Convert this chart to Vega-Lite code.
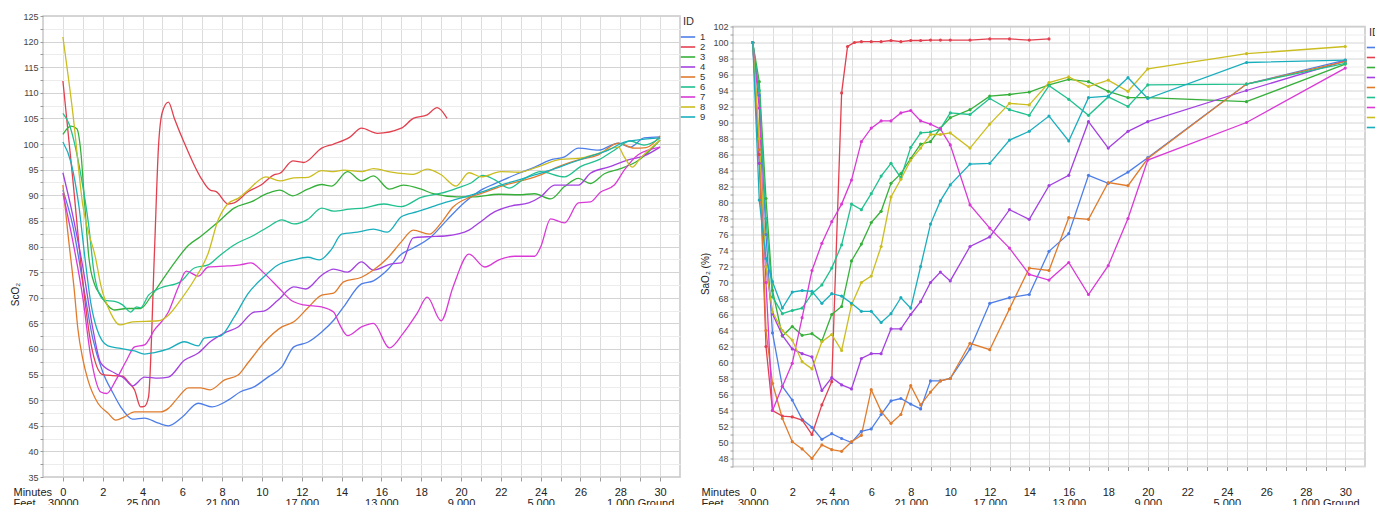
{
  "$schema": "https://vega.github.io/schema/vega-lite/v6.json",
  "background": "white",
  "padding": {"left": 9, "top": 11, "right": 0, "bottom": 0},
  "autosize": {"type": "pad"},
  "bounds": "flush",
  "center": true,
  "spacing": 53,
  "config": {
    "font": "Liberation Sans",
    "view": {"stroke": "#c8c8c8", "strokeWidth": 1.5},
    "axis": {
      "domain": false,
      "gridColor": "#dcdcdc",
      "gridWidth": 1,
      "tickColor": "#9a9a9a",
      "labelColor": "#444444",
      "labelFontSize": 9,
      "titleFontWeight": "normal",
      "titleColor": "#222222",
      "titleFontSize": 10
    },
    "legend": {
      "titleFontWeight": "normal",
      "titleFontSize": 11,
      "titleColor": "#333333",
      "labelFontSize": 9.5,
      "labelColor": "#333333",
      "symbolType": "M-1.8,0H1.8",
      "symbolSize": 64,
      "symbolStrokeWidth": 1.6,
      "rowPadding": -2.4,
      "titlePadding": 5,
      "labelOffset": 7
    }
  },
  "resolve": {"scale": {"color": "independent"}},
  "datasets": {
    "sco2": [
      {"id":"1","t":0,"v":91},{"id":"1","t":0.5,"v":84},{"id":"1","t":1,"v":73},{"id":"1","t":1.5,"v":62},{"id":"1","t":2,"v":55.5},{"id":"1","t":2.5,"v":51.5},{"id":"1","t":2.9,"v":48.7},{"id":"1","t":3.5,"v":46.3},{"id":"1","t":4.1,"v":46.5},{"id":"1","t":4.8,"v":45.5},{"id":"1","t":5.3,"v":45},{"id":"1","t":6,"v":46.7},{"id":"1","t":6.8,"v":49.4},{"id":"1","t":7.5,"v":48.7},{"id":"1","t":8.3,"v":50},{"id":"1","t":8.9,"v":51.6},{"id":"1","t":9.6,"v":52.6},{"id":"1","t":10.3,"v":54.5},{"id":"1","t":11,"v":56.5},{"id":"1","t":11.6,"v":60.4},{"id":"1","t":12.3,"v":61.3},{"id":"1","t":13,"v":63.3},{"id":"1","t":13.6,"v":65.6},{"id":"1","t":14.1,"v":68.2},{"id":"1","t":15,"v":72.7},{"id":"1","t":15.6,"v":73.3},{"id":"1","t":16.3,"v":75.4},{"id":"1","t":17,"v":78.5},{"id":"1","t":17.6,"v":79.7},{"id":"1","t":18.5,"v":81.9},{"id":"1","t":19.3,"v":85.2},{"id":"1","t":20.2,"v":88.7},{"id":"1","t":21,"v":91},{"id":"1","t":21.9,"v":92.6},{"id":"1","t":22.9,"v":94.3},{"id":"1","t":23.7,"v":95.5},{"id":"1","t":24.5,"v":96.9},{"id":"1","t":25.2,"v":97.5},{"id":"1","t":25.9,"v":99.2},{"id":"1","t":26.9,"v":98.8},{"id":"1","t":27.9,"v":100.2},{"id":"1","t":28.5,"v":99.4},{"id":"1","t":29.2,"v":101.2},{"id":"1","t":30,"v":101.4},
      {"id":"2","t":0,"v":112.3},{"id":"2","t":0.5,"v":93},{"id":"2","t":1,"v":73},{"id":"2","t":1.4,"v":61.2},{"id":"2","t":2,"v":55},{"id":"2","t":2.5,"v":54.8},{"id":"2","t":3,"v":54.7},{"id":"2","t":3.3,"v":53.5},{"id":"2","t":3.6,"v":52},{"id":"2","t":3.9,"v":48.7},{"id":"2","t":4.1,"v":48.8},{"id":"2","t":4.3,"v":50.6},{"id":"2","t":4.6,"v":79},{"id":"2","t":4.8,"v":99.4},{"id":"2","t":5,"v":106.3},{"id":"2","t":5.3,"v":108.2},{"id":"2","t":5.6,"v":105},{"id":"2","t":6.1,"v":100.2},{"id":"2","t":6.9,"v":93.6},{"id":"2","t":7.4,"v":91},{"id":"2","t":7.7,"v":90.7},{"id":"2","t":8.3,"v":88.3},{"id":"2","t":8.6,"v":88.5},{"id":"2","t":9.3,"v":90.7},{"id":"2","t":9.95,"v":92},{"id":"2","t":10.6,"v":94},{"id":"2","t":10.9,"v":94.3},{"id":"2","t":11.55,"v":96.7},{"id":"2","t":12.1,"v":96.4},{"id":"2","t":13,"v":99.2},{"id":"2","t":13.6,"v":100},{"id":"2","t":14.4,"v":101.3},{"id":"2","t":15,"v":103.1},{"id":"2","t":15.8,"v":102.1},{"id":"2","t":17,"v":103.1},{"id":"2","t":17.6,"v":105},{"id":"2","t":18.3,"v":105.7},{"id":"2","t":18.8,"v":107.1},{"id":"2","t":19.3,"v":105},
      {"id":"3","t":0,"v":101.9},{"id":"3","t":0.4,"v":103.5},{"id":"3","t":0.7,"v":103},{"id":"3","t":0.9,"v":98.5},{"id":"3","t":1.1,"v":88},{"id":"3","t":1.3,"v":78},{"id":"3","t":1.6,"v":72.5},{"id":"3","t":1.9,"v":70.5},{"id":"3","t":2.3,"v":68.3},{"id":"3","t":2.6,"v":67.6},{"id":"3","t":3.2,"v":67.9},{"id":"3","t":3.9,"v":67.9},{"id":"3","t":4.4,"v":70.1},{"id":"3","t":4.9,"v":72.9},{"id":"3","t":5.6,"v":76.8},{"id":"3","t":6.3,"v":80.2},{"id":"3","t":6.9,"v":81.9},{"id":"3","t":7.8,"v":84.8},{"id":"3","t":8.6,"v":87.5},{"id":"3","t":9.45,"v":88.7},{"id":"3","t":10.3,"v":90.4},{"id":"3","t":10.9,"v":91},{"id":"3","t":11.55,"v":89.9},{"id":"3","t":12.3,"v":91.2},{"id":"3","t":13,"v":92.1},{"id":"3","t":13.5,"v":91.8},{"id":"3","t":14.3,"v":94.6},{"id":"3","t":15,"v":92.8},{"id":"3","t":15.6,"v":93.8},{"id":"3","t":16.4,"v":91.2},{"id":"3","t":17.1,"v":92},{"id":"3","t":18,"v":91.2},{"id":"3","t":18.6,"v":90.3},{"id":"3","t":19.8,"v":89.7},{"id":"3","t":20.6,"v":89.7},{"id":"3","t":21.9,"v":90.2},{"id":"3","t":22.9,"v":90.1},{"id":"3","t":23.7,"v":90.3},{"id":"3","t":24.5,"v":89.3},{"id":"3","t":25.2,"v":91.7},{"id":"3","t":25.9,"v":93.3},{"id":"3","t":26.5,"v":92.3},{"id":"3","t":27.2,"v":94.2},{"id":"3","t":28,"v":95.2},{"id":"3","t":28.9,"v":96.8},{"id":"3","t":30,"v":100.8},
      {"id":"4","t":0,"v":94.4},{"id":"4","t":0.5,"v":86},{"id":"4","t":1,"v":76},{"id":"4","t":1.5,"v":64},{"id":"4","t":1.9,"v":57.3},{"id":"4","t":2.6,"v":55.3},{"id":"4","t":3.07,"v":54.3},{"id":"4","t":3.5,"v":52.8},{"id":"4","t":4.1,"v":54.5},{"id":"4","t":4.8,"v":54.3},{"id":"4","t":5.3,"v":54.5},{"id":"4","t":6.1,"v":57.8},{"id":"4","t":6.8,"v":59.2},{"id":"4","t":7.4,"v":61.4},{"id":"4","t":8.1,"v":63.1},{"id":"4","t":8.8,"v":64.3},{"id":"4","t":9.6,"v":67.2},{"id":"4","t":10.1,"v":67.4},{"id":"4","t":10.8,"v":69.5},{"id":"4","t":11.6,"v":72.1},{"id":"4","t":12.2,"v":71.7},{"id":"4","t":13,"v":74.4},{"id":"4","t":13.6,"v":75.6},{"id":"4","t":14.3,"v":75},{"id":"4","t":15,"v":77},{"id":"4","t":15.6,"v":75.4},{"id":"4","t":16.5,"v":76.6},{"id":"4","t":17,"v":76.8},{"id":"4","t":17.6,"v":81.7},{"id":"4","t":18.3,"v":81.9},{"id":"4","t":19.3,"v":82.1},{"id":"4","t":20.4,"v":83.2},{"id":"4","t":20.9,"v":84.6},{"id":"4","t":21.7,"v":86.8},{"id":"4","t":22.5,"v":87.9},{"id":"4","t":23.4,"v":88.5},{"id":"4","t":24,"v":89.7},{"id":"4","t":24.7,"v":92},{"id":"4","t":25.9,"v":92},{"id":"4","t":26.5,"v":94.3},{"id":"4","t":27.4,"v":95.5},{"id":"4","t":28.4,"v":96.9},{"id":"4","t":29.2,"v":97.7},{"id":"4","t":30,"v":99.4},
      {"id":"5","t":0,"v":92},{"id":"5","t":0.25,"v":82.6},{"id":"5","t":0.57,"v":71.5},{"id":"5","t":0.75,"v":64},{"id":"5","t":1,"v":58},{"id":"5","t":1.26,"v":53.9},{"id":"5","t":1.76,"v":49.4},{"id":"5","t":2.26,"v":47.5},{"id":"5","t":2.66,"v":46.1},{"id":"5","t":3.07,"v":46.7},{"id":"5","t":3.6,"v":47.7},{"id":"5","t":4.2,"v":47.7},{"id":"5","t":4.9,"v":47.7},{"id":"5","t":5.3,"v":48.4},{"id":"5","t":5.8,"v":50.6},{"id":"5","t":6.3,"v":52.4},{"id":"5","t":6.9,"v":52.4},{"id":"5","t":7.4,"v":52},{"id":"5","t":8.1,"v":53.9},{"id":"5","t":8.8,"v":54.9},{"id":"5","t":9.3,"v":57.3},{"id":"5","t":10.1,"v":61.2},{"id":"5","t":11,"v":64.3},{"id":"5","t":11.6,"v":65.3},{"id":"5","t":12.3,"v":68},{"id":"5","t":13,"v":70.5},{"id":"5","t":13.6,"v":70.9},{"id":"5","t":14.1,"v":73.1},{"id":"5","t":15,"v":74},{"id":"5","t":15.6,"v":75.4},{"id":"5","t":16.3,"v":77.7},{"id":"5","t":17,"v":80.9},{"id":"5","t":17.6,"v":83.2},{"id":"5","t":18.4,"v":82.4},{"id":"5","t":19,"v":84.6},{"id":"5","t":19.6,"v":87.7},{"id":"5","t":20.5,"v":89.7},{"id":"5","t":21.2,"v":90.6},{"id":"5","t":22.2,"v":92},{"id":"5","t":23.2,"v":93},{"id":"5","t":24,"v":94},{"id":"5","t":24.9,"v":95.6},{"id":"5","t":25.9,"v":96.9},{"id":"5","t":26.9,"v":97.9},{"id":"5","t":27.9,"v":100.2},{"id":"5","t":28.7,"v":99.2},{"id":"5","t":29.3,"v":99.3},{"id":"5","t":30,"v":101.6},
      {"id":"6","t":0,"v":106},{"id":"6","t":0.3,"v":104},{"id":"6","t":0.9,"v":94},{"id":"6","t":1.3,"v":84},{"id":"6","t":1.56,"v":75},{"id":"6","t":1.8,"v":71},{"id":"6","t":2.1,"v":69.5},{"id":"6","t":2.6,"v":69.3},{"id":"6","t":3,"v":68.6},{"id":"6","t":3.4,"v":67.2},{"id":"6","t":3.7,"v":68.2},{"id":"6","t":3.9,"v":68},{"id":"6","t":4.3,"v":70.5},{"id":"6","t":4.9,"v":71.9},{"id":"6","t":5.9,"v":73.1},{"id":"6","t":6.6,"v":75.8},{"id":"6","t":7.3,"v":76.4},{"id":"6","t":7.9,"v":78.3},{"id":"6","t":8.6,"v":80.3},{"id":"6","t":9.6,"v":82.2},{"id":"6","t":10.3,"v":83.8},{"id":"6","t":11,"v":85.2},{"id":"6","t":11.6,"v":84.4},{"id":"6","t":12.3,"v":85.3},{"id":"6","t":13,"v":87.5},{"id":"6","t":13.6,"v":86.9},{"id":"6","t":14.4,"v":87.3},{"id":"6","t":15.1,"v":87.5},{"id":"6","t":16.1,"v":88.3},{"id":"6","t":17,"v":87.8},{"id":"6","t":18,"v":89.6},{"id":"6","t":19,"v":90.4},{"id":"6","t":19.8,"v":91.4},{"id":"6","t":20.5,"v":92.4},{"id":"6","t":21.1,"v":93.9},{"id":"6","t":21.7,"v":93},{"id":"6","t":22.4,"v":91.4},{"id":"6","t":23.2,"v":93.3},{"id":"6","t":24,"v":94.6},{"id":"6","t":25.2,"v":93.6},{"id":"6","t":26,"v":95.6},{"id":"6","t":26.9,"v":96.9},{"id":"6","t":27.7,"v":98.8},{"id":"6","t":28.5,"v":100.6},{"id":"6","t":29.2,"v":99.8},{"id":"6","t":30,"v":101.2},
      {"id":"7","t":0,"v":90.4},{"id":"7","t":0.5,"v":81},{"id":"7","t":1,"v":70},{"id":"7","t":1.4,"v":58.5},{"id":"7","t":1.9,"v":51.6},{"id":"7","t":2.2,"v":51.3},{"id":"7","t":2.66,"v":53.9},{"id":"7","t":3.2,"v":57.8},{"id":"7","t":3.6,"v":60.4},{"id":"7","t":4.1,"v":60.8},{"id":"7","t":4.6,"v":63.7},{"id":"7","t":5.3,"v":67.2},{"id":"7","t":5.8,"v":72.1},{"id":"7","t":6.2,"v":75.2},{"id":"7","t":6.8,"v":74.2},{"id":"7","t":7.3,"v":76},{"id":"7","t":8.3,"v":76.2},{"id":"7","t":8.9,"v":76.4},{"id":"7","t":9.45,"v":76.8},{"id":"7","t":10.1,"v":74.8},{"id":"7","t":10.8,"v":72.1},{"id":"7","t":11.5,"v":69.4},{"id":"7","t":12.1,"v":68.6},{"id":"7","t":13,"v":68.2},{"id":"7","t":13.6,"v":67.2},{"id":"7","t":13.9,"v":64.8},{"id":"7","t":14.3,"v":62.6},{"id":"7","t":15,"v":64.3},{"id":"7","t":15.6,"v":65},{"id":"7","t":16.4,"v":60.2},{"id":"7","t":17.1,"v":63.1},{"id":"7","t":17.8,"v":67},{"id":"7","t":18.3,"v":70.1},{"id":"7","t":19,"v":65.5},{"id":"7","t":19.6,"v":72.1},{"id":"7","t":20.4,"v":78.5},{"id":"7","t":21.2,"v":76},{"id":"7","t":21.9,"v":77.4},{"id":"7","t":22.7,"v":78.1},{"id":"7","t":23.7,"v":78.1},{"id":"7","t":24,"v":79.9},{"id":"7","t":24.5,"v":85.4},{"id":"7","t":25.2,"v":84.6},{"id":"7","t":25.9,"v":88.5},{"id":"7","t":26.5,"v":88.7},{"id":"7","t":27,"v":90.6},{"id":"7","t":27.7,"v":92},{"id":"7","t":28.2,"v":94.9},{"id":"7","t":28.9,"v":97.9},{"id":"7","t":30,"v":99.4},
      {"id":"8","t":0,"v":120.9},{"id":"8","t":0.5,"v":106},{"id":"8","t":1,"v":88},{"id":"8","t":1.66,"v":77.4},{"id":"8","t":1.9,"v":72.5},{"id":"8","t":2.4,"v":67},{"id":"8","t":2.85,"v":64.7},{"id":"8","t":3.5,"v":65.3},{"id":"8","t":4.8,"v":65.5},{"id":"8","t":5.3,"v":66.6},{"id":"8","t":5.9,"v":69.5},{"id":"8","t":6.6,"v":73.5},{"id":"8","t":7.3,"v":78.7},{"id":"8","t":7.8,"v":85.2},{"id":"8","t":8.3,"v":88.4},{"id":"8","t":8.8,"v":89.4},{"id":"8","t":9.3,"v":91},{"id":"8","t":10.2,"v":93.6},{"id":"8","t":10.9,"v":92.8},{"id":"8","t":11.6,"v":93.4},{"id":"8","t":12.3,"v":93.5},{"id":"8","t":13,"v":94.8},{"id":"8","t":13.6,"v":94.6},{"id":"8","t":14.1,"v":94.9},{"id":"8","t":15,"v":94.6},{"id":"8","t":15.6,"v":95.2},{"id":"8","t":16.5,"v":94.5},{"id":"8","t":17.6,"v":94.1},{"id":"8","t":18.3,"v":95.1},{"id":"8","t":19,"v":94},{"id":"8","t":19.75,"v":91.8},{"id":"8","t":20.4,"v":94.4},{"id":"8","t":21,"v":93.6},{"id":"8","t":22,"v":94.6},{"id":"8","t":22.9,"v":94.5},{"id":"8","t":23.9,"v":95.6},{"id":"8","t":25,"v":97},{"id":"8","t":25.9,"v":97.2},{"id":"8","t":26.9,"v":98.2},{"id":"8","t":27.9,"v":99.4},{"id":"8","t":28.2,"v":97.5},{"id":"8","t":28.6,"v":95.5},{"id":"8","t":29,"v":97.2},{"id":"8","t":30,"v":100.8},
      {"id":"9","t":0,"v":100.4},{"id":"9","t":0.4,"v":96.5},{"id":"9","t":0.8,"v":88},{"id":"9","t":1.1,"v":78},{"id":"9","t":1.4,"v":69},{"id":"9","t":1.7,"v":64},{"id":"9","t":2.26,"v":60.6},{"id":"9","t":2.9,"v":60.1},{"id":"9","t":3.6,"v":59.6},{"id":"9","t":4.1,"v":59},{"id":"9","t":4.6,"v":59.3},{"id":"9","t":5.3,"v":60},{"id":"9","t":6.1,"v":61.4},{"id":"9","t":6.8,"v":60.6},{"id":"9","t":7.1,"v":62.1},{"id":"9","t":7.9,"v":62.5},{"id":"9","t":8.6,"v":66.2},{"id":"9","t":9.3,"v":70.8},{"id":"9","t":10.1,"v":74.1},{"id":"9","t":10.8,"v":76.4},{"id":"9","t":11.6,"v":77.4},{"id":"9","t":12.3,"v":77.9},{"id":"9","t":12.9,"v":77.4},{"id":"9","t":13.5,"v":79.5},{"id":"9","t":14,"v":82.4},{"id":"9","t":14.8,"v":82.8},{"id":"9","t":15.6,"v":83.4},{"id":"9","t":16.3,"v":82.8},{"id":"9","t":17,"v":85.8},{"id":"9","t":17.8,"v":86.8},{"id":"9","t":18.5,"v":87.7},{"id":"9","t":19.3,"v":88.7},{"id":"9","t":20.2,"v":89.7},{"id":"9","t":21,"v":90.6},{"id":"9","t":22,"v":92},{"id":"9","t":22.9,"v":93},{"id":"9","t":23.7,"v":94},{"id":"9","t":24.5,"v":94.9},{"id":"9","t":25.5,"v":96.3},{"id":"9","t":26.4,"v":97.5},{"id":"9","t":27.4,"v":98.8},{"id":"9","t":28.2,"v":100.4},{"id":"9","t":28.9,"v":100.8},{"id":"9","t":30,"v":101.2}
    ],
    "sao2": [
      {"id":"1","t":0,"v":100},{"id":"1","t":0.33,"v":93.4},{"id":"1","t":0.67,"v":76},{"id":"1","t":1,"v":63.7},{"id":"1","t":1.5,"v":57},{"id":"1","t":2,"v":55.3},{"id":"1","t":2.5,"v":52.9},{"id":"1","t":3,"v":51.9},{"id":"1","t":3.5,"v":50.4},{"id":"1","t":4,"v":51.1},{"id":"1","t":4.5,"v":50.5},{"id":"1","t":5,"v":50},{"id":"1","t":5.5,"v":51.4},{"id":"1","t":6,"v":51.7},{"id":"1","t":6.5,"v":53.5},{"id":"1","t":7,"v":55.2},{"id":"1","t":7.5,"v":55.5},{"id":"1","t":8,"v":54.8},{"id":"1","t":8.5,"v":54.2},{"id":"1","t":9,"v":57.7},{"id":"1","t":9.5,"v":57.7},{"id":"1","t":10,"v":58},{"id":"1","t":11,"v":61.7},{"id":"1","t":12,"v":67.4},{"id":"1","t":13,"v":68.1},{"id":"1","t":14,"v":68.5},{"id":"1","t":15,"v":73.9},{"id":"1","t":16,"v":76.1},{"id":"1","t":17,"v":83.4},{"id":"1","t":18,"v":82.4},{"id":"1","t":19,"v":83.8},{"id":"1","t":20,"v":85.6},{"id":"1","t":25,"v":94.8},{"id":"1","t":30,"v":97.8},
      {"id":"2","t":0,"v":100},{"id":"2","t":0.33,"v":86},{"id":"2","t":0.67,"v":62},{"id":"2","t":1,"v":54},{"id":"2","t":1.5,"v":53.3},{"id":"2","t":2,"v":53.2},{"id":"2","t":2.5,"v":52.8},{"id":"2","t":3,"v":51},{"id":"2","t":3.5,"v":54.7},{"id":"2","t":4,"v":57.6},{"id":"2","t":4.5,"v":93.7},{"id":"2","t":4.8,"v":99.5},{"id":"2","t":5.15,"v":100},{"id":"2","t":5.5,"v":100.1},{"id":"2","t":6,"v":100.1},{"id":"2","t":6.5,"v":100.1},{"id":"2","t":7,"v":100.25},{"id":"2","t":7.5,"v":100.1},{"id":"2","t":8,"v":100.25},{"id":"2","t":8.5,"v":100.25},{"id":"2","t":9,"v":100.3},{"id":"2","t":9.5,"v":100.3},{"id":"2","t":10,"v":100.3},{"id":"2","t":11,"v":100.3},{"id":"2","t":12,"v":100.45},{"id":"2","t":13,"v":100.45},{"id":"2","t":14,"v":100.3},{"id":"2","t":15,"v":100.45},
      {"id":"3","t":0,"v":100},{"id":"3","t":0.33,"v":95.1},{"id":"3","t":0.67,"v":80.5},{"id":"3","t":1,"v":69},{"id":"3","t":1.5,"v":63.3},{"id":"3","t":2,"v":64.5},{"id":"3","t":2.5,"v":63.4},{"id":"3","t":3,"v":63.6},{"id":"3","t":3.5,"v":62.7},{"id":"3","t":4,"v":66},{"id":"3","t":4.5,"v":67},{"id":"3","t":5,"v":72.7},{"id":"3","t":5.5,"v":74.8},{"id":"3","t":6,"v":77.5},{"id":"3","t":6.5,"v":78.9},{"id":"3","t":7,"v":82.4},{"id":"3","t":7.5,"v":83.6},{"id":"3","t":8,"v":85.5},{"id":"3","t":8.5,"v":87.3},{"id":"3","t":9,"v":87.6},{"id":"3","t":9.5,"v":89.3},{"id":"3","t":10,"v":90.6},{"id":"3","t":11,"v":91.6},{"id":"3","t":12,"v":93.3},{"id":"3","t":13,"v":93.5},{"id":"3","t":14,"v":93.8},{"id":"3","t":15,"v":94.7},{"id":"3","t":16,"v":95.4},{"id":"3","t":17,"v":95.1},{"id":"3","t":18,"v":93.9},{"id":"3","t":19,"v":93.1},{"id":"3","t":20,"v":93.1},{"id":"3","t":25,"v":92.6},{"id":"3","t":30,"v":97.3},
      {"id":"4","t":0,"v":100},{"id":"4","t":0.33,"v":84.9},{"id":"4","t":0.67,"v":72},{"id":"4","t":1,"v":66.1},{"id":"4","t":1.5,"v":63.4},{"id":"4","t":2,"v":61.7},{"id":"4","t":2.5,"v":61.1},{"id":"4","t":3,"v":60.7},{"id":"4","t":3.5,"v":56.5},{"id":"4","t":4,"v":58.1},{"id":"4","t":4.5,"v":57.2},{"id":"4","t":5,"v":56.7},{"id":"4","t":5.5,"v":60.5},{"id":"4","t":6,"v":61.1},{"id":"4","t":6.5,"v":61.1},{"id":"4","t":7,"v":64.2},{"id":"4","t":7.5,"v":64.2},{"id":"4","t":8,"v":66},{"id":"4","t":8.5,"v":67.6},{"id":"4","t":9,"v":70},{"id":"4","t":9.5,"v":71.3},{"id":"4","t":10,"v":70.2},{"id":"4","t":11,"v":74.5},{"id":"4","t":12,"v":75.7},{"id":"4","t":13,"v":79.1},{"id":"4","t":14,"v":77.9},{"id":"4","t":15,"v":82.1},{"id":"4","t":16,"v":83.4},{"id":"4","t":17,"v":90.1},{"id":"4","t":18,"v":86.8},{"id":"4","t":19,"v":88.9},{"id":"4","t":20,"v":90.1},{"id":"4","t":25,"v":94},{"id":"4","t":30,"v":97.7},
      {"id":"5","t":0,"v":100},{"id":"5","t":0.33,"v":86.6},{"id":"5","t":0.67,"v":64},{"id":"5","t":1,"v":57.4},{"id":"5","t":1.5,"v":53},{"id":"5","t":2,"v":50.1},{"id":"5","t":2.5,"v":49.2},{"id":"5","t":3,"v":48},{"id":"5","t":3.5,"v":49.7},{"id":"5","t":4,"v":49.1},{"id":"5","t":4.5,"v":48.9},{"id":"5","t":5,"v":50.1},{"id":"5","t":5.5,"v":50.9},{"id":"5","t":6,"v":56.6},{"id":"5","t":6.5,"v":53.9},{"id":"5","t":7,"v":52.4},{"id":"5","t":7.5,"v":53.5},{"id":"5","t":8,"v":57.1},{"id":"5","t":8.5,"v":54.7},{"id":"5","t":9,"v":56.3},{"id":"5","t":9.5,"v":57.7},{"id":"5","t":10,"v":58},{"id":"5","t":11,"v":62.4},{"id":"5","t":12,"v":61.6},{"id":"5","t":13,"v":66.7},{"id":"5","t":14,"v":71.8},{"id":"5","t":15,"v":71.5},{"id":"5","t":16,"v":78.1},{"id":"5","t":17,"v":77.9},{"id":"5","t":18,"v":82.5},{"id":"5","t":19,"v":82.1},{"id":"5","t":20,"v":85.5},{"id":"5","t":25,"v":94.8},{"id":"5","t":30,"v":97.6},
      {"id":"6","t":0,"v":100},{"id":"6","t":0.33,"v":94},{"id":"6","t":0.67,"v":78},{"id":"6","t":1,"v":68.2},{"id":"6","t":1.5,"v":66.1},{"id":"6","t":2,"v":66.5},{"id":"6","t":2.5,"v":66.8},{"id":"6","t":3,"v":68.6},{"id":"6","t":3.5,"v":69.7},{"id":"6","t":4,"v":71.8},{"id":"6","t":4.5,"v":74.7},{"id":"6","t":5,"v":79.8},{"id":"6","t":5.5,"v":79.1},{"id":"6","t":6,"v":81.1},{"id":"6","t":6.5,"v":83.3},{"id":"6","t":7,"v":84.9},{"id":"6","t":7.5,"v":83.1},{"id":"6","t":8,"v":86.9},{"id":"6","t":8.5,"v":88.7},{"id":"6","t":9,"v":88.8},{"id":"6","t":9.5,"v":89.2},{"id":"6","t":10,"v":91.2},{"id":"6","t":11,"v":91},{"id":"6","t":12,"v":93},{"id":"6","t":13,"v":91.6},{"id":"6","t":14,"v":90.9},{"id":"6","t":15,"v":94.6},{"id":"6","t":16,"v":92.9},{"id":"6","t":17,"v":90.9},{"id":"6","t":18,"v":93.2},{"id":"6","t":19,"v":92},{"id":"6","t":20,"v":94.7},{"id":"6","t":25,"v":94.8},{"id":"6","t":30,"v":97.4},
      {"id":"7","t":0,"v":100},{"id":"7","t":0.33,"v":91.8},{"id":"7","t":0.67,"v":70},{"id":"7","t":1,"v":54},{"id":"7","t":1.5,"v":57},{"id":"7","t":2,"v":59.9},{"id":"7","t":2.5,"v":65.6},{"id":"7","t":3,"v":71.5},{"id":"7","t":3.5,"v":74.9},{"id":"7","t":4,"v":77.6},{"id":"7","t":4.5,"v":79.8},{"id":"7","t":5,"v":82.8},{"id":"7","t":5.5,"v":87.6},{"id":"7","t":6,"v":89.3},{"id":"7","t":6.5,"v":90.2},{"id":"7","t":7,"v":90.2},{"id":"7","t":7.5,"v":91.2},{"id":"7","t":8,"v":91.5},{"id":"7","t":8.5,"v":90.2},{"id":"7","t":9,"v":89.8},{"id":"7","t":9.5,"v":89.2},{"id":"7","t":10,"v":87.2},{"id":"7","t":11,"v":79.7},{"id":"7","t":12,"v":76.8},{"id":"7","t":13,"v":74.3},{"id":"7","t":14,"v":71},{"id":"7","t":15,"v":70.3},{"id":"7","t":16,"v":72.5},{"id":"7","t":17,"v":68.5},{"id":"7","t":18,"v":72.1},{"id":"7","t":19,"v":78},{"id":"7","t":20,"v":85.3},{"id":"7","t":25,"v":90},{"id":"7","t":30,"v":96.8},
      {"id":"8","t":0,"v":100},{"id":"8","t":0.33,"v":88},{"id":"8","t":0.67,"v":72},{"id":"8","t":1,"v":66.3},{"id":"8","t":1.5,"v":64},{"id":"8","t":2,"v":62.8},{"id":"8","t":2.5,"v":60.1},{"id":"8","t":3,"v":59.2},{"id":"8","t":3.5,"v":62.6},{"id":"8","t":4,"v":63.5},{"id":"8","t":4.5,"v":61.5},{"id":"8","t":5,"v":67.2},{"id":"8","t":5.5,"v":70},{"id":"8","t":6,"v":70.8},{"id":"8","t":6.5,"v":74.5},{"id":"8","t":7,"v":80.7},{"id":"8","t":7.5,"v":82.9},{"id":"8","t":8,"v":85.3},{"id":"8","t":8.5,"v":86.8},{"id":"8","t":9,"v":88.5},{"id":"8","t":9.5,"v":88.5},{"id":"8","t":10,"v":88.7},{"id":"8","t":11,"v":86.8},{"id":"8","t":12,"v":89.8},{"id":"8","t":13,"v":92.4},{"id":"8","t":14,"v":92.2},{"id":"8","t":15,"v":95},{"id":"8","t":16,"v":95.7},{"id":"8","t":17,"v":94.5},{"id":"8","t":18,"v":95.3},{"id":"8","t":19,"v":93.9},{"id":"8","t":20,"v":96.7},{"id":"8","t":25,"v":98.6},{"id":"8","t":30,"v":99.5},
      {"id":"9","t":0,"v":100},{"id":"9","t":0.33,"v":80.3},{"id":"9","t":0.67,"v":73},{"id":"9","t":1,"v":70.1},{"id":"9","t":1.5,"v":66.8},{"id":"9","t":2,"v":68.8},{"id":"9","t":2.5,"v":69},{"id":"9","t":3,"v":68.9},{"id":"9","t":3.5,"v":67.4},{"id":"9","t":4,"v":68.6},{"id":"9","t":4.5,"v":68.3},{"id":"9","t":5,"v":67.4},{"id":"9","t":5.5,"v":66.4},{"id":"9","t":6,"v":66.4},{"id":"9","t":6.5,"v":65},{"id":"9","t":7,"v":66.1},{"id":"9","t":7.5,"v":68.1},{"id":"9","t":8,"v":66.8},{"id":"9","t":8.5,"v":72},{"id":"9","t":9,"v":77.3},{"id":"9","t":9.5,"v":80.2},{"id":"9","t":10,"v":82.2},{"id":"9","t":11,"v":84.8},{"id":"9","t":12,"v":84.9},{"id":"9","t":13,"v":87.8},{"id":"9","t":14,"v":88.9},{"id":"9","t":15,"v":90.8},{"id":"9","t":16,"v":87.7},{"id":"9","t":17,"v":93.1},{"id":"9","t":18,"v":93.3},{"id":"9","t":19,"v":95.6},{"id":"9","t":20,"v":93},{"id":"9","t":25,"v":97.5},{"id":"9","t":30,"v":97.8}
    ]
  },
  "hconcat": [
    {
      "width": 637,
      "height": 461,
      "data": {"name": "sco2"},
      "mark": {"type": "line", "interpolate": "monotone", "strokeWidth": 1.3},
      "encoding": {
        "x": {
          "field": "t", "type": "quantitative",
          "scale": {"domain": [-1, 31], "nice": false, "zero": false},
          "axis": {
            "values": [0,1,2,3,4,5,6,7,8,9,10,11,12,13,14,15,16,17,18,19,20,21,22,23,24,25,26,27,28,29,30],
            "labelExpr": "datum.value % 2 == 0 ? [datum.label, datum.value == 0 ? '30000' : datum.value == 4 ? '25 000' : datum.value == 8 ? '21 000' : datum.value == 12 ? '17 000' : datum.value == 16 ? '13 000' : datum.value == 20 ? '9 000' : datum.value == 24 ? '5 000' : ''] : (datum.value == 29 ? ['', '1 000 Ground'] : '')",
            "labelOverlap": false, "labelFlush": false, "labelBound": false,
            "labelFontSize": 11, "labelColor": "#222222", "labelLineHeight": 11,
            "labelPadding": 5, "tickSize": 4,
            "title": ["Minutes", "Feet"], "titleFontSize": 11, "titleLineHeight": 11,
            "titleX": -30, "titleY": 9.5, "titleAlign": "left", "titleBaseline": "top", "titleAnchor": null
          }
        },
        "y": {
          "field": "v", "type": "quantitative",
          "scale": {"domain": [35, 125], "nice": false, "zero": false},
          "axis": {
            "values": [35,37.5,40,42.5,45,47.5,50,52.5,55,57.5,60,62.5,65,67.5,70,72.5,75,77.5,80,82.5,85,87.5,90,92.5,95,97.5,100,102.5,105,107.5,110,112.5,115,117.5,120,122.5,125],
            "labelExpr": "datum.value % 5 == 0 ? datum.label : ''",
            "gridColor": {"condition": {"test": "datum.value % 5 == 0", "value": "#d4d4d4"}, "value": "#ececec"},
            "labelOverlap": false, "tickSize": 3, "labelPadding": 2,
            "title": "ScO₂", "titleX": -23, "titleY": 278, "titleAlign": "center", "titleAnchor": null
          }
        },
        "color": {
          "field": "id", "type": "nominal",
          "scale": {"domain": ["1","2","3","4","5","6","7","8","9"], "range": ["#4d7ee8","#e2404f","#36b03a","#a441e0","#e07b2c","#20c08f","#d93ad6","#cbbd1f","#1aaebd"]},
          "legend": {"title": "ID", "orient": "right", "offset": 3}
        }
      }
    },
    {
      "width": 632,
      "height": 440,
      "data": {"name": "sao2"},
      "mark": {"type": "line", "strokeWidth": 1.3, "point": {"filled": true, "size": 10}},
      "encoding": {
        "x": {
          "field": "t", "type": "quantitative",
          "scale": {"domain": [-1, 31], "nice": false, "zero": false},
          "axis": {
            "values": [0,1,2,3,4,5,6,7,8,9,10,11,12,13,14,15,16,17,18,19,20,21,22,23,24,25,26,27,28,29,30],
            "labelExpr": "datum.value % 2 == 0 ? [datum.label, datum.value == 0 ? '30000' : datum.value == 4 ? '25 000' : datum.value == 8 ? '21 000' : datum.value == 12 ? '17 000' : datum.value == 16 ? '13 000' : datum.value == 20 ? '9 000' : datum.value == 24 ? '5 000' : ''] : (datum.value == 29 ? ['', '1 000 Ground'] : '')",
            "labelOverlap": false, "labelFlush": false, "labelBound": false,
            "labelFontSize": 11, "labelColor": "#222222", "labelLineHeight": 11,
            "labelPadding": 16, "tickSize": 4,
            "title": ["Minutes", "Feet"], "titleFontSize": 11, "titleLineHeight": 11,
            "titleX": -32, "titleY": 20, "titleAlign": "left", "titleBaseline": "top", "titleAnchor": null
          }
        },
        "y": {
          "field": "v", "type": "quantitative",
          "scale": {"domain": [47, 102], "nice": false, "zero": false},
          "axis": {
            "values": [47,48,49,50,51,52,53,54,55,56,57,58,59,60,61,62,63,64,65,66,67,68,69,70,71,72,73,74,75,76,77,78,79,80,81,82,83,84,85,86,87,88,89,90,91,92,93,94,95,96,97,98,99,100,101,102],
            "labelExpr": "datum.value % 2 == 0 ? datum.label : ''",
            "gridColor": {"condition": {"test": "datum.value % 2 == 0", "value": "#d4d4d4"}, "value": "#ececec"},
            "labelOverlap": false, "tickSize": 3, "labelPadding": 2,
            "title": "SaO₂ (%)", "titleX": -23, "titleY": 247, "titleAlign": "center", "titleAnchor": null
          }
        },
        "color": {
          "field": "id", "type": "nominal",
          "scale": {"domain": ["1","2","3","4","5","6","7","8","9"], "range": ["#4d7ee8","#e2404f","#36b03a","#a441e0","#e07b2c","#20c08f","#d93ad6","#cbbd1f","#1aaebd"]},
          "legend": {"title": "ID", "orient": "right", "offset": 4}
        }
      }
    }
  ]
}
